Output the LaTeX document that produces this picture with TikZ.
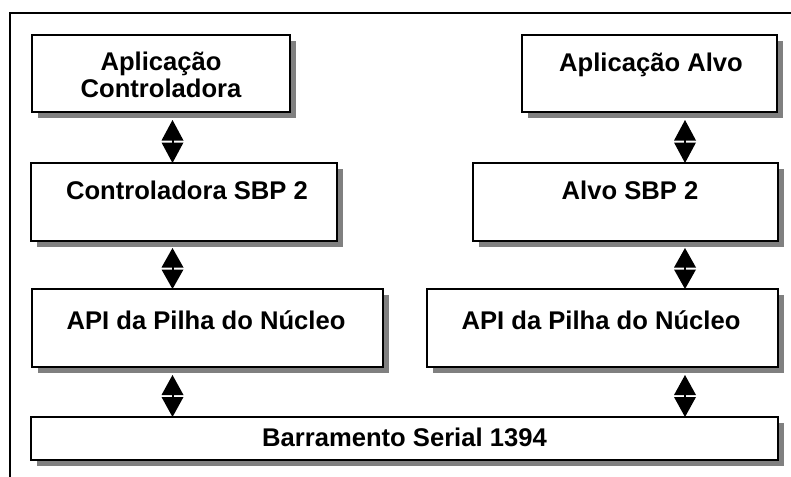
\documentclass[tikz,border=0pt]{standalone}
\usepackage{fontspec}
\setmainfont{Liberation Sans}
\usetikzlibrary{calc,shadows}
\tikzset{
  box/.style={draw, line width=2.3pt, fill=white, outer sep=0pt, inner sep=0pt,
    drop shadow={shadow xshift=6pt, shadow yshift=-6pt, opacity=1, fill=black!50}},
  lbl/.style={anchor=base, inner sep=0pt, font=\fontsize{25.6}{30}\selectfont\bfseries},
  frameline/.style={line width=2.2pt},
}
\newcommand\udarrow[2]{%
  \fill let \p1=#1, \p2=#2, \p3=($#1!0.5!#2$) in
    (\x1,\y1) -- (\x1-11pt,\y3+1pt) -- (\x1+11pt,\y3+1pt) -- cycle
    (\x1-11pt,\y3-1pt) -- (\x1+11pt,\y3-1pt) -- (\x2,\y2) -- cycle;
  \draw[line width=2pt] let \p3=($#1!0.5!#2$) in (\x3,\y3+1.2pt) -- (\x3,\y3-1.2pt);
}
\begin{document}
\begin{tikzpicture}[x=1pt,y=-1pt]
\useasboundingbox (0,0) rectangle (791,476);
\fill[white] (0,0) rectangle (791,476);
\begin{scope}
\clip (0,0) rectangle (791,476);
\draw[frameline] (10,490) -- (10,13) -- (800,13);
\end{scope}

\node[box, minimum width=258pt, minimum height=77pt] (b1) at (161,73.5) {};
\node[box, minimum width=255pt, minimum height=77pt] (b2) at (649.5,73.5) {};
\node[box, minimum width=306pt, minimum height=78pt] (b3) at (184,202) {};
\node[box, minimum width=305pt, minimum height=78pt] (b4) at (625.5,202) {};
\node[box, minimum width=351pt, minimum height=78pt] (b5) at (207.5,328) {};
\node[box, minimum width=351pt, minimum height=78pt] (b6) at (602.5,328) {};
\node[box, minimum width=747pt, minimum height=43pt] (b7) at (404.5,438.5) {};

\node[lbl] (t1a) at (161,70.7) {Aplicação};
\node[lbl] (t1b) at (161,97.3) {Controladora};
\node[lbl] (t2) at (651,72) {Aplicação Alvo};
\node[lbl] (t3) at (187,199) {Controladora SBP 2};
\node[lbl] (t4) at (630,199) {Alvo SBP 2};
\node[lbl] (t5) at (206,329) {API da Pilha do Núcleo};
\node[lbl] (t6) at (601,329) {API da Pilha do Núcleo};
\node[lbl] (t7) at (404.5,446.5) {Barramento Serial 1394};

\coordinate (cL) at (172.5,0);
\coordinate (cR) at (685,0);

\udarrow{($(b1.south -| cL)+(0,8)$)}{(b3.north -| cL)}
\udarrow{($(b3.south -| cL)+(0,7)$)}{(b5.north -| cL)}
\udarrow{($(b5.south -| cL)+(0,8)$)}{(b7.north -| cL)}
\udarrow{($(b2.south -| cR)+(0,8)$)}{(b4.north -| cR)}
\udarrow{($(b4.south -| cR)+(0,7)$)}{(b6.north -| cR)}
\udarrow{($(b6.south -| cR)+(0,8)$)}{(b7.north -| cR)}
\end{tikzpicture}
\end{document}
